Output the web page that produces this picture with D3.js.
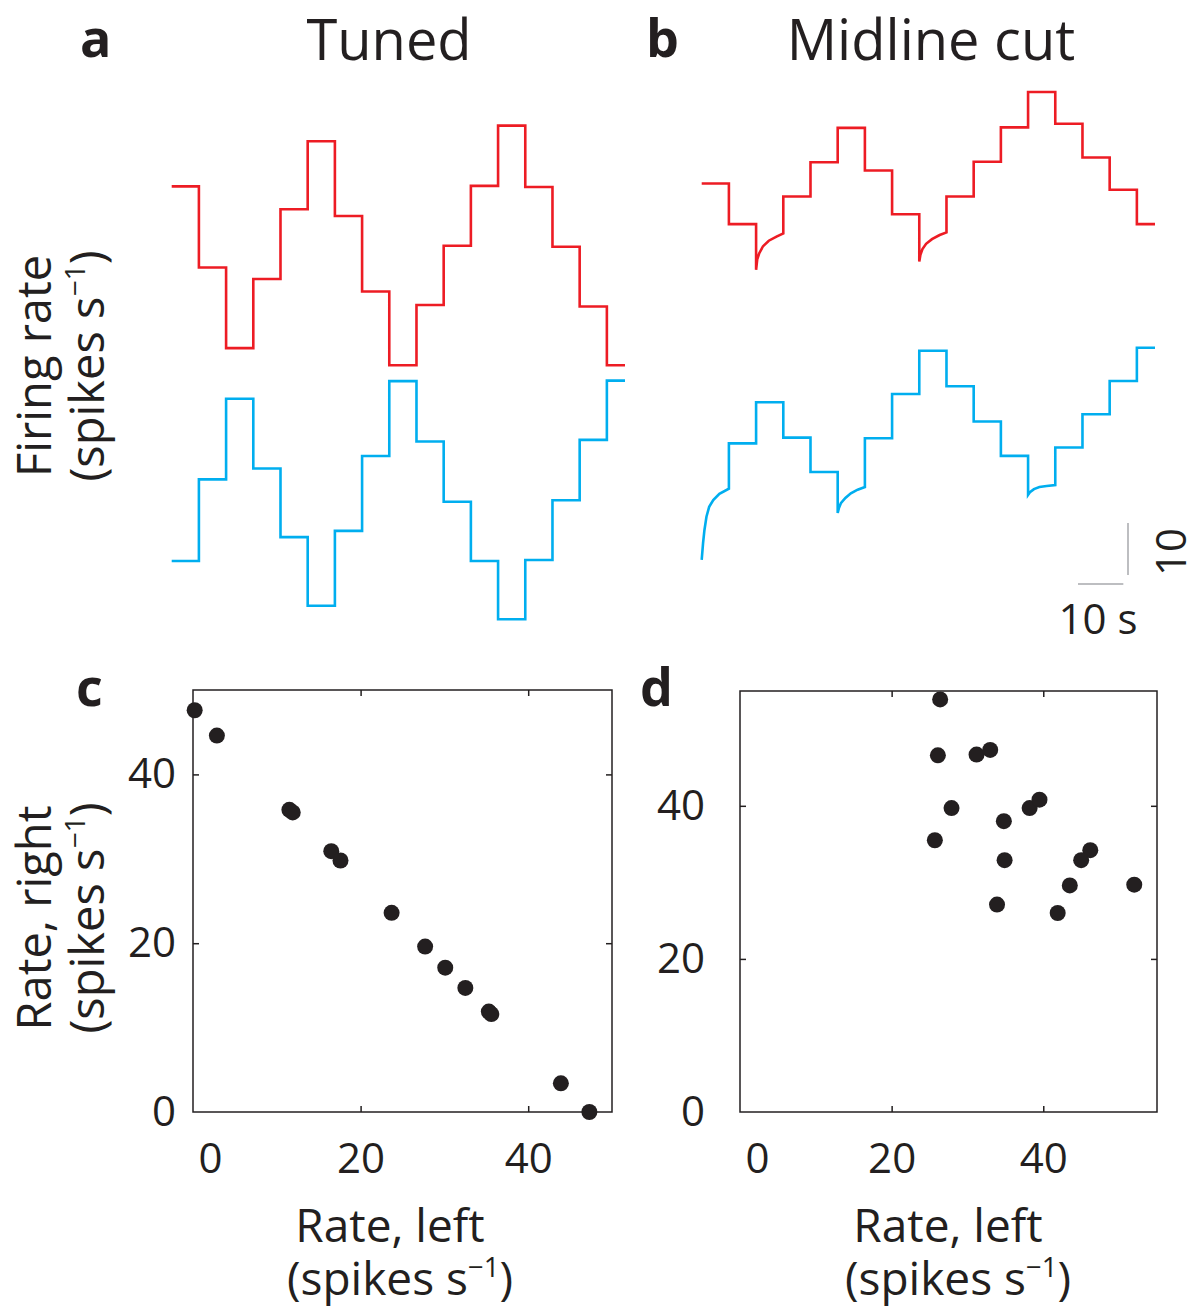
<!doctype html>
<html lang="en">
<head>
<meta charset="utf-8">
<title>Tuned vs midline cut</title>
<style>
  body { margin: 0; background: #fff; }
  svg text { font-family: "Open Sans", sans-serif; fill: #231f20; }
</style>
</head>
<body>
<div id="chart"></div>
<script src="https://cdn.jsdelivr.net/npm/d3@7/dist/d3.min.js"></script>
<script>
// ---- data ----
// start time (s) of each 6 s stimulus step, record ends at 100 s
var stepTimes = [0, 6, 12, 18, 24, 30, 36, 42, 48, 54, 60, 66, 72, 78, 84, 90, 96];
var endTime = 100;

// firing rate (spikes/s) held during each step; null = transient, see below
var tunedRed  = [34.4, 18.8, 3.3, 16.6, 30.0, 43.1, 28.7, 14.2, 0, 11.6, 23.0, 34.5, 46.1, 34.3, 22.8, 11.3, 0];
var tunedBlue = [11.2, 26.9, 42.4, 29.0, 15.8, 2.6, 17.0, 31.4, 45.8, 34.2, 22.6, 11.2, 0, 11.4, 22.9, 34.5, 45.9];
var cutRed    = [34.4, 26.6, null, 31.9, 38.5, 45.1, 36.9, 28.5, null, 31.9, 38.6, 45.2, 52.0, 45.9, 39.4, 33.2, 26.6];
var cutBlue   = [null, 35.6, 43.5, 36.7, 30.1, null, 36.6, 45.1, 53.4, 46.6, 39.8, 33.2, null, 34.8, 41.2, 47.6, 54.0];

// slow recovery after a step (time s, rate)
var cutRedTransients = [
  [[12, 17.8], [12.25, 19.8], [12.7, 21.0], [13.5, 22.3], [14.8, 23.4], [16.5, 24.2], [18, 24.8]],
  [[48, 19.4], [48.25, 20.7], [48.7, 21.8], [49.5, 22.8], [50.8, 23.7], [52.5, 24.5], [54, 25.0]]
];
var cutBlueTransients = [
  [[0, 13.2], [0.3, 16.4], [0.6, 18.9], [1.05, 21.5], [1.65, 23.4], [2.55, 24.7], [3.9, 25.9], [6, 26.9]],
  [[30, 22.2], [30.25, 23.1], [30.7, 24.1], [31.7, 25.1], [32.9, 26.0], [34.4, 26.7], [36, 27.2]],
  [[72, 25.7], [72.4, 26.2], [73.3, 26.8], [74.5, 27.2], [76.1, 27.4], [78, 27.6]]
];

// scatter: mean rate left vs right per step
var tunedLeft  = [0.2, 2.85, 11.5, 11.9, 16.5, 17.6, 23.7, 27.7, 30.1, 32.5, 35.3, 35.6, 43.9, 47.3];
var tunedRight = [47.6, 44.6, 35.8, 35.5, 30.9, 29.8, 23.6, 19.6, 17.1, 14.7, 11.9, 11.6, 3.4, 0];
var cutLeft  = [26.4, 26.1, 31.2, 33.0, 27.9, 25.7, 34.8, 38.2, 39.5, 34.9, 46.2, 45.0, 43.5, 33.9, 41.9, 52.0];
var cutRight = [53.9, 46.6, 46.7, 47.3, 39.7, 35.5, 38.0, 39.7, 40.8, 32.9, 34.2, 32.9, 29.6, 27.1, 26.0, 29.7];

var scatterTicks = [0, 20, 40];

// ---- drawing ----
var RED = "#ed1c24", BLUE = "#00aeef", INK = "#231f20";
var PX_PER_RATE = 5.2;

var svg = d3.select("#chart").append("svg")
    .attr("width", 1204)
    .attr("height", 1311);

// turn step values + transients into a list of [t, rate] points
function tracePoints(values, transients) {
  var pts = [];
  stepTimes.forEach(function(t0, i) {
    var t1 = i + 1 < stepTimes.length ? stepTimes[i + 1] : endTime;
    var tr = (transients || []).find(function(s) { return s[0][0] === t0; });
    if (tr) {
      tr.forEach(function(p) { pts.push(p); });
    } else {
      pts.push([t0, values[i]], [t1, values[i]]);
    }
  });
  return pts;
}

function drawTrace(x, zeroY, values, transients, color) {
  var y = d3.scaleLinear().domain([0, 10]).range([zeroY, zeroY - 10 * PX_PER_RATE]);
  var line = d3.line()
      .x(function(d) { return x(d[0]); })
      .y(function(d) { return y(d[1]); });
  svg.append("path")
      .datum(tracePoints(values, transients))
      .attr("d", line)
      .attr("fill", "none")
      .attr("stroke", color)
      .attr("stroke-width", 2.6)
      .attr("stroke-linejoin", "miter");
  return y;
}

var xa = d3.scaleLinear().domain([0, endTime]).range([171.7, 625]);
var xb = d3.scaleLinear().domain([0, endTime]).range([701.7, 1155]);

drawTrace(xa, 365.3, tunedRed, null, RED);
drawTrace(xa, 619.3, tunedBlue, null, BLUE);
drawTrace(xb, 362.4, cutRed, cutRedTransients, RED);
var yCutBlue = drawTrace(xb, 628.5, cutBlue, cutBlueTransients, BLUE);

// scale bars: 10 s and 10 spikes/s
var sb = svg.append("g").attr("stroke", "#a7a9ac").attr("stroke-width", 1.5);
sb.append("line")
    .attr("x1", 1078).attr("x2", 1078 + xb(10) - xb(0))
    .attr("y1", 584).attr("y2", 584);
sb.append("line")
    .attr("x1", 1128).attr("x2", 1128)
    .attr("y1", 575).attr("y2", 575 - (yCutBlue(0) - yCutBlue(10)));
svg.append("text").attr("x", 1098).attr("y", 634)
    .attr("text-anchor", "middle").attr("font-size", 42).text("10 s");
svg.append("text").attr("transform", "translate(1186,552) rotate(-90)")
    .attr("text-anchor", "middle").attr("font-size", 42).text("10");

// titles and panel letters
function title(txt, x, y) {
  svg.append("text").attr("x", x).attr("y", y).attr("text-anchor", "middle")
      .attr("font-size", 56).text(txt);
}
title("Tuned", 389, 60);
title("Midline cut", 931, 60);

function letter(txt, x, y) {
  svg.append("text").attr("x", x).attr("y", y)
      .attr("font-size", 52).attr("font-weight", 700).text(txt);
}
letter("a", 80, 57);
letter("b", 646, 57);
letter("c", 76, 706);
letter("d", 640, 706);

// label with a superscript "−1"
function unitsLabel(sel, size) {
  sel.append("tspan").text("(spikes s");
  sel.append("tspan").attr("dy", -size * 0.4).attr("font-size", size * 0.6).text("\u22121");
  sel.append("tspan").attr("dy", size * 0.4).text(")");
}

function yLabel(l1, cy, b1, b2) {
  svg.append("text").attr("transform", "translate(" + b1 + "," + cy + ") rotate(-90)")
      .attr("text-anchor", "middle").attr("font-size", 47).text(l1);
  var t = svg.append("text").attr("transform", "translate(" + b2 + "," + cy + ") rotate(-90)")
      .attr("text-anchor", "middle").attr("font-size", 47);
  unitsLabel(t, 47);
}
yLabel("Firing rate", 366, 51, 104);
yLabel("Rate, right", 918, 51, 104);

function xLabel(cx1, cx2) {
  svg.append("text").attr("x", cx1).attr("y", 1242)
      .attr("text-anchor", "middle").attr("font-size", 46).text("Rate, left");
  var t = svg.append("text").attr("x", cx2).attr("y", 1295)
      .attr("text-anchor", "middle").attr("font-size", 46);
  unitsLabel(t, 46);
}

// scatter panels
function scatter(xs, ys, xMax, yMax, box, labelGap) {
  var x = d3.scaleLinear().domain([0, xMax]).range([box.left, box.right]);
  var y = d3.scaleLinear().domain([0, yMax]).range([box.bottom, box.top]);
  var g = svg.append("g");

  // inner ticks on all four sides
  var inner = [20, 40];
  g.append("g").attr("transform", "translate(0," + box.bottom + ")")
      .call(d3.axisBottom(x).tickValues(inner).tickSize(-6).tickFormat(""));
  g.append("g").attr("transform", "translate(0," + box.top + ")")
      .call(d3.axisTop(x).tickValues(inner).tickSize(-6).tickFormat(""));
  g.append("g").attr("transform", "translate(" + box.left + ",0)")
      .call(d3.axisLeft(y).tickValues(inner).tickSize(-6).tickFormat(""));
  g.append("g").attr("transform", "translate(" + box.right + ",0)")
      .call(d3.axisRight(y).tickValues(inner).tickSize(-6).tickFormat(""));
  g.selectAll(".domain").remove();
  g.selectAll(".tick line").attr("stroke", INK).attr("stroke-width", 1.5);

  g.append("rect")
      .attr("x", box.left).attr("y", box.top)
      .attr("width", box.right - box.left).attr("height", box.bottom - box.top)
      .attr("fill", "none").attr("stroke", INK).attr("stroke-width", 1.5);

  // tick labels
  var xl = g.append("g").attr("transform", "translate(0," + (box.bottom + 28) + ")")
      .call(d3.axisBottom(x).tickValues(scatterTicks).tickSize(0));
  var yl = g.append("g").attr("transform", "translate(" + (box.left - labelGap) + ",0)")
      .call(d3.axisLeft(y).tickValues(scatterTicks).tickSize(0));
  [xl, yl].forEach(function(a) {
    a.select(".domain").remove();
    a.selectAll("text").attr("font-size", 42).attr("fill", INK)
        .attr("font-family", "Open Sans, sans-serif");
  });
  xl.selectAll(".tick").filter(function(d) { return d === 0; })
      .select("text").attr("dx", 17);

  g.selectAll("circle.dot")
      .data(xs.map(function(v, i) { return [v, ys[i]]; }))
      .join("circle")
      .attr("class", "dot")
      .attr("cx", function(d) { return x(d[0]); })
      .attr("cy", function(d) { return y(d[1]); })
      .attr("r", 8)
      .attr("fill", INK);
}

scatter(tunedLeft, tunedRight, 50, 50, {left: 193, right: 612, top: 690, bottom: 1112}, 14);
scatter(cutLeft, cutRight, 55, 55, {left: 740, right: 1157, top: 691, bottom: 1112}, 32);
xLabel(390, 400);
xLabel(948, 958);
</script>
</body>
</html>
